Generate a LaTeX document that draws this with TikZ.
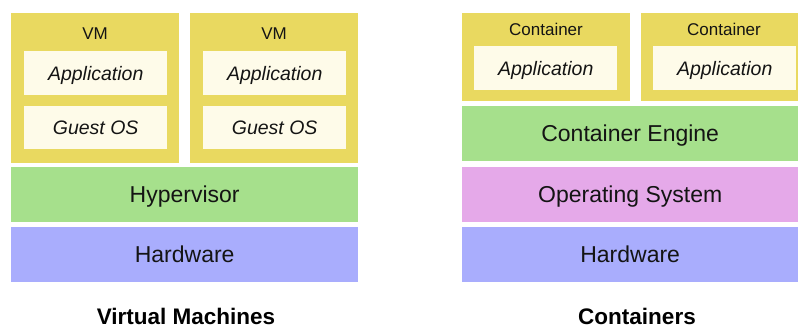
\documentclass[tikz,border=0pt]{standalone}
\usepackage{fontspec}
\setmainfont{Liberation Sans}
\definecolor{vmyellow}{RGB}{233,217,96}
\definecolor{cream}{RGB}{254,251,233}
\definecolor{hvgreen}{RGB}{166,224,140}
\definecolor{hwblue}{RGB}{169,173,253}
\definecolor{ospink}{RGB}{229,169,233}
\definecolor{ink}{RGB}{20,20,20}
\begin{document}
\begin{tikzpicture}[x=1pt,y=-1pt,
  layer/.style={rectangle, inner sep=0pt, anchor=north west, text=ink,
    font=\fontsize{23}{23}\selectfont, text height=16.5pt, text depth=0pt},
  outerbox/.style={rectangle, inner sep=0pt, anchor=north west, fill=vmyellow},
  innerbox/.style={rectangle, inner sep=0pt, anchor=north west, fill=cream, text=ink,
    font=\fontsize{19.5}{19.5}\itshape\selectfont, text height=14pt, text depth=0pt},
  smalllabel/.style={inner sep=0pt, text=ink, font=\fontsize{17}{17}\selectfont,
    text height=12.2pt, text depth=0pt},
  caption/.style={inner sep=0pt, anchor=base, text=black, font=\fontsize{22.5}{22.5}\bfseries\selectfont}]
\useasboundingbox (0,0) rectangle (798,328);
\fill[white] (0,0) rectangle (798,328);
% ---- Virtual machines
\node[outerbox, minimum width=168pt, minimum height=150pt] (vm1) at (11,13) {};
\node[outerbox, minimum width=168pt, minimum height=150pt] (vm2) at (190,13) {};
\node[smalllabel] (vm1l) at (95,33) {VM};
\node[smalllabel] (vm2l) at (274,33) {VM};
\node[innerbox, minimum width=143pt, minimum height=44pt] (app1) at (24,51) {Application};
\node[innerbox, minimum width=143pt, minimum height=43pt] (gos1) at (24,106) {Guest OS};
\node[innerbox, minimum width=143pt, minimum height=44pt] (app2) at (203,51) {Application};
\node[innerbox, minimum width=143pt, minimum height=43pt] (gos2) at (203,106) {Guest OS};
\node[layer, fill=hvgreen, minimum width=347pt, minimum height=55pt] (hyp) at (11,167) {Hypervisor};
\node[layer, fill=hwblue, minimum width=347pt, minimum height=55pt] (hw1) at (11,227) {Hardware};
\node[caption] (capvm) at (186,325) {Virtual Machines};
% ---- Containers
\node[outerbox, minimum width=168pt, minimum height=88pt] (c1) at (462,13) {};
\node[outerbox, minimum width=157pt, minimum height=88pt] (c2) at (641,13) {};
\node[smalllabel] (c1l) at (546,29) {Container};
\node[smalllabel] (c2l) at (724,29) {Container};
\node[innerbox, minimum width=143pt, minimum height=44pt] (capp1) at (474,46) {Application};
\node[innerbox, minimum width=143pt, minimum height=44pt] (capp2) at (653,46) {Application};
\node[layer, fill=hvgreen, minimum width=336pt, minimum height=55pt] (eng) at (462,106) {Container Engine};
\node[layer, fill=ospink, minimum width=336pt, minimum height=55pt] (os) at (462,167) {Operating System};
\node[layer, fill=hwblue, minimum width=336pt, minimum height=55pt] (hw2) at (462,227) {Hardware};
\node[caption] (capc) at (637,325) {Containers};
\end{tikzpicture}
\end{document}
